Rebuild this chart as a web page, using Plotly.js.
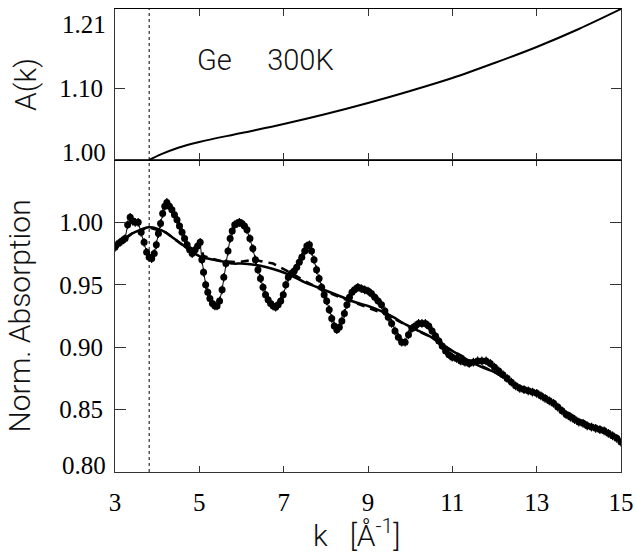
<!DOCTYPE html>
<html><head><meta charset="utf-8">
<script src="https://cdn.plot.ly/plotly-3.0.1.min.js"></script>
<style>html,body{margin:0;padding:0;background:#fff}</style>
</head><body><div id="chart" style="width:636px;height:553px"></div>
<script>
// measured absorption (points with error bars)
const kData = [3.00,3.08,3.16,3.24,3.30,3.36,3.42,3.48,3.55,3.62,3.69,3.75,3.81,3.87,3.93,3.98,4.03,4.08,4.13,4.18,4.23,4.29,4.35,4.41,4.47,4.53,4.59,4.65,4.71,4.77,4.83,4.90,4.96,5.02,5.06,5.10,5.15,5.20,5.25,5.31,5.37,5.42,5.48,5.54,5.58,5.63,5.68,5.73,5.78,5.84,5.89,5.95,6.01,6.07,6.13,6.20,6.27,6.33,6.39,6.45,6.51,6.57,6.63,6.69,6.75,6.81,6.87,6.93,6.99,7.05,7.11,7.18,7.25,7.31,7.37,7.43,7.50,7.55,7.61,7.66,7.72,7.78,7.84,7.90,7.96,8.02,8.08,8.14,8.20,8.26,8.32,8.38,8.44,8.50,8.56,8.62,8.68,8.76,8.84,8.92,9.00,9.08,9.16,9.24,9.32,9.40,9.48,9.56,9.64,9.72,9.80,9.88,9.96,10.04,10.12,10.20,10.28,10.36,10.44,10.52,10.60,10.68,10.76,10.84,10.92,11.00,11.10,11.20,11.30,11.40,11.50,11.60,11.70,11.80,11.90,12.00,12.10,12.20,12.30,12.40,12.50,12.60,12.70,12.80,12.90,13.00,13.10,13.20,13.30,13.40,13.50,13.60,13.70,13.80,13.90,14.00,14.10,14.20,14.30,14.40,14.50,14.60,14.70,14.80,14.90,15.00];
const absData = [0.980,0.983,0.985,0.987,0.998,1.004,1.001,1.000,1.000,0.992,0.984,0.976,0.972,0.971,0.975,0.982,0.991,0.999,1.007,1.013,1.016,1.013,1.010,1.006,1.002,0.997,0.992,0.987,0.982,0.978,0.975,0.978,0.981,0.984,0.970,0.960,0.950,0.944,0.939,0.935,0.933,0.933,0.937,0.946,0.956,0.967,0.977,0.987,0.993,0.998,0.999,1.000,0.999,0.997,0.994,0.987,0.979,0.970,0.962,0.955,0.948,0.942,0.938,0.935,0.933,0.932,0.934,0.937,0.942,0.950,0.956,0.959,0.961,0.964,0.968,0.972,0.977,0.981,0.982,0.977,0.970,0.962,0.955,0.948,0.942,0.937,0.930,0.923,0.917,0.914,0.916,0.921,0.927,0.934,0.940,0.944,0.946,0.948,0.947,0.946,0.945,0.943,0.940,0.937,0.934,0.929,0.924,0.919,0.913,0.908,0.904,0.904,0.910,0.915,0.917,0.919,0.919,0.919,0.917,0.913,0.909,0.905,0.901,0.897,0.894,0.892,0.891,0.889,0.888,0.887,0.888,0.889,0.889,0.889,0.887,0.884,0.881,0.878,0.875,0.872,0.869,0.867,0.866,0.865,0.864,0.863,0.861,0.859,0.857,0.855,0.852,0.849,0.846,0.844,0.842,0.840,0.839,0.837,0.836,0.835,0.834,0.833,0.831,0.829,0.827,0.824];
const absErr = 0.0035;
// smooth background (solid)
const kBkgSolid = [3.0,3.2,3.4,3.6,3.8,4.0,4.2,4.4,4.6,4.8,5.0,5.2,5.5,5.8,6.0,6.3,6.6,6.9,7.2,7.5,7.8,8.1,8.4,8.7,9.0,9.3,9.6,9.9,10.2,10.5,10.8,11.1,11.4,11.7,12.0,12.3,12.6,12.9,13.2,13.5,13.8,14.1,14.4,14.7,15.0];
const bkgSolid = [0.980,0.986,0.991,0.994,0.996,0.995,0.992,0.987,0.982,0.977,0.973,0.971,0.969,0.967,0.967,0.966,0.964,0.961,0.957,0.952,0.948,0.944,0.940,0.936,0.933,0.929,0.924,0.918,0.913,0.908,0.901,0.895,0.889,0.884,0.880,0.874,0.868,0.864,0.860,0.853,0.845,0.840,0.836,0.831,0.825];
// alternative background (dashed)
const kBkgDashed = [3.0,3.4,3.8,4.2,4.6,4.9,5.0,5.1,5.5,5.9,6.3,6.75,7.2,7.5,7.9,8.4,8.9,9.5,10.0,10.5,11.0,11.5,12.0,12.5,13.0,13.5,14.0,14.5,15.0];
const bkgDashed = [0.980,0.991,0.996,0.992,0.982,0.976,0.983,0.973,0.969,0.968,0.970,0.967,0.959,0.953,0.946,0.939,0.933,0.925,0.916,0.908,0.897,0.888,0.880,0.870,0.863,0.853,0.842,0.835,0.825];
// A(k) correction factor (top panel)
const kA = [3.81,4.1,4.5,5,6,7,8,9,10,11,12,13,14,15];
const aVals = [1.000,1.008,1.017,1.025,1.0375,1.0501,1.0640,1.0793,1.0960,1.1140,1.1349,1.1572,1.1822,1.2100];
const edgeK = 3.81;
const xTickVals = [3,5,7,9,11,13,15];
const yTickVals = [0.85,0.90,0.95,1.00];
const yTickText = ['0.85','0.90','0.95','1.00'];
const y2TickVals = [1.10];
const y2TickText = ['1.10'];

const serif = {family:'Liberation Serif', size:25, color:'#000'};
const thin = {family:'Roboto', size:30, color:'#111', weight:300};
const axCol = '#333';

const traces = [
  {x:kData, y:absData, xaxis:'x', yaxis:'y', type:'scatter', mode:'lines+markers',
   line:{color:'#000', width:1}, marker:{color:'#000', size:7},
   error_y:{type:'constant', value:absErr, color:'#000', thickness:1.2, width:0}},
  {x:kBkgSolid, y:bkgSolid, xaxis:'x', yaxis:'y', type:'scatter', mode:'lines',
   line:{color:'#000', width:2.5, shape:'spline'}},
  {x:kBkgDashed, y:bkgDashed, xaxis:'x', yaxis:'y', type:'scatter', mode:'lines',
   line:{color:'#000', width:2.5, dash:'8px,6px'}},
  {x:kA, y:aVals, xaxis:'x2', yaxis:'y2', type:'scatter', mode:'lines',
   line:{color:'#000', width:2, shape:'spline'}}
];

const layout = {
  width:636, height:553,
  margin:{l:115, r:15, t:9, b:81},
  paper_bgcolor:'#fff', plot_bgcolor:'#fff',
  showlegend:false,
  xaxis:{domain:[0,1], anchor:'y', range:[3,15], tickvals:xTickVals, ticks:'inside', ticklen:6,
    tickcolor:axCol, showline:true, linecolor:axCol, linewidth:1, mirror:'ticks', showgrid:false, zeroline:false,
    tickfont:serif, ticklabelstandoff:8},
  yaxis:{domain:[0,0.674], anchor:'x', range:[0.80,1.05], tickvals:yTickVals, ticktext:yTickText,
    ticks:'inside', ticklen:11, tickcolor:axCol, showline:true, linecolor:axCol, linewidth:1, mirror:'ticks',
    showgrid:false, zeroline:false, tickfont:serif, ticklabelstandoff:6,
    title:{text:'Norm. Absorption', font:thin, standoff:19}},
  xaxis2:{domain:[0,1], anchor:'y2', range:[3,15], matches:'x', tickvals:xTickVals, ticks:'inside', ticklen:7,
    tickcolor:axCol, showline:true, linecolor:'#000', linewidth:1.5, mirror:'ticks', showgrid:false, zeroline:false,
    showticklabels:false},
  yaxis2:{domain:[0.674,1], anchor:'x2', range:[1.0,1.21], tickvals:y2TickVals, ticktext:y2TickText,
    ticks:'inside', ticklen:10, tickcolor:axCol, showline:true, linecolor:axCol, linewidth:1, mirror:'ticks',
    showgrid:false, zeroline:false, tickfont:serif, ticklabelstandoff:6,
    title:{text:'A(k)', font:thin, standoff:13}},
  shapes:[{type:'line', xref:'x', yref:'paper', x0:edgeK, x1:edgeK, y0:0, y1:1,
    line:{color:'#000', width:1, dash:'3px,3px'}}],
  annotations:[
    {text:'k\u00A0\u00A0\u00A0[Å<sup>-1</sup>]', xref:'paper', yref:'paper', x:0.477, y:-0.132,
     xanchor:'center', yanchor:'middle', showarrow:false, font:thin},
    {text:'Ge\u00A0\u00A0\u00A0\u00A0\u00A0300K', xref:'x2', yref:'y2', x:6.56, y:1.139, showarrow:false,
     font:{family:'Roboto', size:29, color:'#111', weight:300}},
    {text:'1.21', xref:'paper', yref:'y2 domain', x:0, y:0.894, xanchor:'right', yanchor:'middle', xshift:-7, showarrow:false, font:serif},
    {text:'1.00', xref:'paper', yref:'y2 domain', x:0, y:0.046, xanchor:'right', yanchor:'middle', xshift:-7, showarrow:false, font:serif},
    {text:'0.80', xref:'paper', yref:'y domain', x:0, y:0.022, xanchor:'right', yanchor:'middle', xshift:-7, showarrow:false, font:serif}
  ]
};

Plotly.newPlot('chart', traces, layout, {displayModeBar:false, staticPlot:true});
</script>
</body></html>
